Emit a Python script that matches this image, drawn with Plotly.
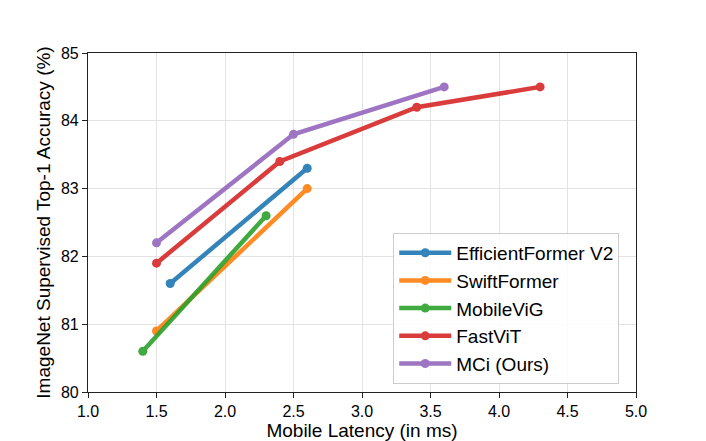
import plotly.graph_objects as go

# Latency (ms) vs ImageNet top-1 accuracy (%) for each model family
names = ["EfficientFormer V2", "SwiftFormer", "MobileViG", "FastViT", "MCi (Ours)"]
colors = ["#1f77b4", "#ff7f0e", "#2ca02c", "#d62728", "#9467bd"]

effformer_lat = [1.6, 2.6]
effformer_acc = [81.6, 83.3]

swift_lat = [1.5, 2.6]
swift_acc = [80.9, 83.0]

mobilevig_lat = [1.4, 2.3]
mobilevig_acc = [80.6, 82.6]

fastvit_lat = [1.5, 2.4, 3.4, 4.3]
fastvit_acc = [81.9, 83.4, 84.2, 84.5]

mci_lat = [1.5, 2.5, 3.6]
mci_acc = [82.2, 83.8, 84.5]

x_ticks = [1.0, 1.5, 2.0, 2.5, 3.0, 3.5, 4.0, 4.5, 5.0]
y_ticks = [80, 81, 82, 83, 84, 85]

series = [
    (effformer_lat, effformer_acc),
    (swift_lat, swift_acc),
    (mobilevig_lat, mobilevig_acc),
    (fastvit_lat, fastvit_acc),
    (mci_lat, mci_acc),
]

fig = go.Figure()
for (xs, ys), name, c in zip(series, names, colors):
    fig.add_trace(go.Scatter(x=xs, y=ys, name=name, mode="lines+markers",
                             line=dict(color=c, width=4.5),
                             marker=dict(color=c, size=9),
                             opacity=0.9))

axis_style = dict(showline=True, linecolor="#222", linewidth=1.2, mirror=True,
                  ticks="outside", ticklen=5, tickcolor="#222",
                  showgrid=True, gridcolor="#e3e3e3", gridwidth=1,
                  zeroline=False, automargin=False,
                  tickfont=dict(size=16, color="black"))

fig.update_xaxes(range=[1.0, 5.0], tickvals=x_ticks, tickformat=".1f",
                 title=dict(text="Mobile Latency (in ms)", font=dict(size=19, color="black"), standoff=0),
                 **axis_style)
fig.update_yaxes(range=[80, 85], tickvals=y_ticks,
                 title=dict(text="ImageNet Supervised Top-1 Accuracy (%)", font=dict(size=19, color="black"), standoff=5),
                 **axis_style)

# page is drawn with the browser's 8px body margin, so margins are offset
fig.update_layout(
    width=706, height=441,
    margin=dict(l=80, r=78, t=45, b=57),
    plot_bgcolor="white", paper_bgcolor="white",
    font=dict(family="Liberation Sans, Arial, sans-serif", color="black"),
    legend=dict(x=0.557, y=0.024, xanchor="left", yanchor="bottom",
                bgcolor="rgba(255,255,255,0.85)", bordercolor="#cccccc", borderwidth=1,
                font=dict(size=19, color="black"), tracegroupgap=0, itemwidth=52),
)

fig.write_html("out.html")
